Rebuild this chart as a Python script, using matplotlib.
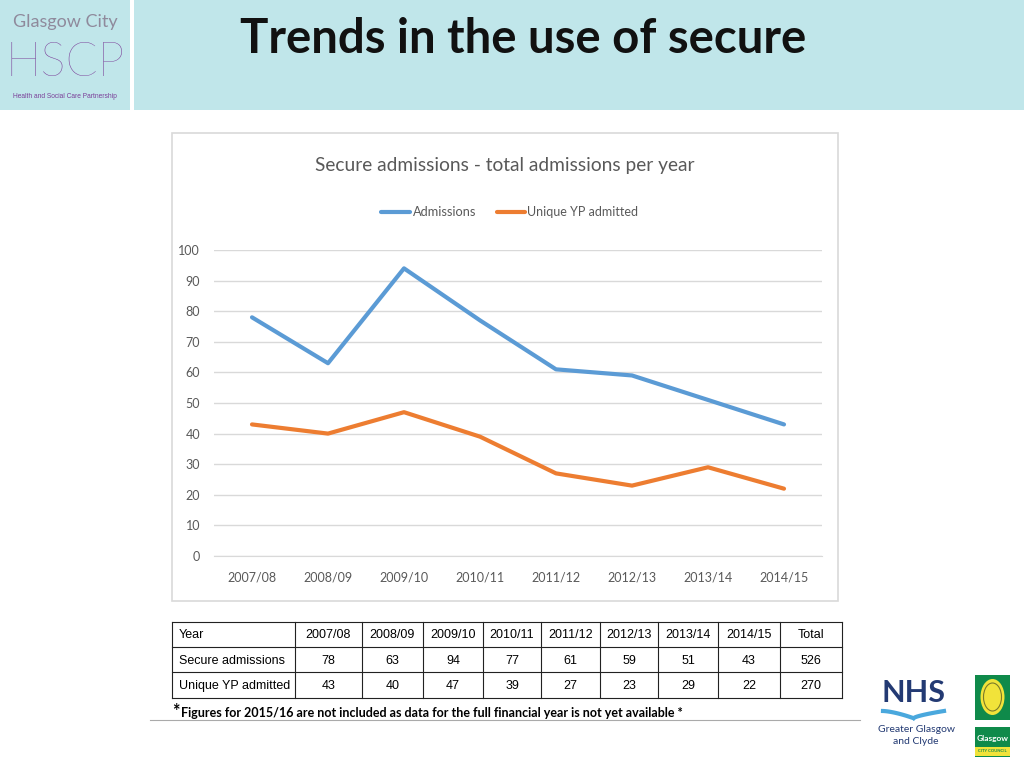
import matplotlib
matplotlib.use("Agg")
import matplotlib.pyplot as plt
from matplotlib.patches import Rectangle, Ellipse
import numpy as np

# ---------------- data ----------------
years = ["2007/08", "2008/09", "2009/10", "2010/11", "2011/12", "2012/13", "2013/14", "2014/15"]
admissions = [78, 63, 94, 77, 61, 59, 51, 43]
unique_yp = [43, 40, 47, 39, 27, 23, 29, 22]
admissions_total = 526
unique_total = 270
y_ticks = [0, 10, 20, 30, 40, 50, 60, 70, 80, 90, 100]

page_title = "Trends in the use of secure"
chart_title = "Secure admissions - total admissions per year"
series_names = ["Admissions", "Unique YP admitted"]
row_names = ["Year", "Secure admissions", "Unique YP admitted"]
footnote = "Figures for 2015/16 are not included as data for the full financial year is not yet available *"

BLUE = "#5b9bd5"
ORANGE = "#ed7d31"
CYAN = "#c0e6ea"
W, H = 1024, 768
LATO = ["Lato", "DejaVu Sans"]

fig = plt.figure(figsize=(10.24, 7.68), dpi=100)
fig.patch.set_facecolor("white")

def px_rect(x0, y0, x1, y1):
    return [x0 / W, 1 - y1 / H, (x1 - x0) / W, (y1 - y0) / H]

# background overlay axes in pixel coordinates
bg = fig.add_axes([0, 0, 1, 1])
bg.set_xlim(0, W)
bg.set_ylim(H, 0)
bg.axis("off")
bg.set_zorder(0)

# header
bg.add_patch(Rectangle((0, 0), 130, 110, color=CYAN, lw=0))
bg.add_patch(Rectangle((134, 0), W - 134, 110, color=CYAN, lw=0))
bg.text(523, 39, page_title, ha="center", va="center", fontsize=34,
        fontweight="bold", family=LATO, color="#111111")

# HSCP logo
bg.text(65, 22, "Glasgow City", ha="center", va="center", fontsize=13,
        color="#8f8a9c", family=LATO)
bg.text(65, 64, "HSCP", ha="center", va="center", fontsize=34, color="#7a3e98",
        family=LATO, fontweight="light")
bg.text(65, 96, "Health and Social Care Partnership", ha="center", va="center",
        fontsize=4.8, color="#7a3e98", family=["Liberation Sans", "DejaVu Sans"])

# chart box
bg.add_patch(Rectangle((172, 133), 666, 468, fill=False, ec="#d9d9d9", lw=1.2))
bg.text(505, 166, chart_title, ha="center", va="center", fontsize=13.8,
        color="#595959", family=LATO)
# legend
bg.plot([381, 410], [212, 212], color=BLUE, lw=3, solid_capstyle="round")
bg.text(413, 212, series_names[0], ha="left", va="center", fontsize=9.2,
        color="#595959", family=LATO)
bg.plot([497, 525], [212, 212], color=ORANGE, lw=3, solid_capstyle="round")
bg.text(527, 212, series_names[1], ha="left", va="center", fontsize=9,
        color="#595959", family=LATO)

# ---------------- chart ----------------
ax = fig.add_axes(px_rect(214, 250, 822, 556))
ax.set_zorder(2)
ax.patch.set_alpha(0)
x = np.arange(len(years))
ax.plot(x, admissions, color=BLUE, lw=3, solid_capstyle="round", zorder=3)
ax.plot(x, unique_yp, color=ORANGE, lw=3, solid_capstyle="round", zorder=3)
ax.set_xlim(-0.5, len(years) - 0.5)
ax.set_ylim(0, 100)
ax.set_yticks(y_ticks)
ax.set_xticks(x)
ax.set_xticklabels(years)
ax.grid(axis="y", color="#d9d9d9", lw=1)
ax.set_axisbelow(True)
for s in ["top", "right", "left"]:
    ax.spines[s].set_visible(False)
ax.spines["bottom"].set_color("#d9d9d9")
ax.tick_params(length=0, labelsize=9, labelcolor="#595959")
ax.tick_params(axis="x", pad=11)
ax.tick_params(axis="y", pad=10)
for lab in ax.get_xticklabels() + ax.get_yticklabels():
    lab.set_family(LATO)

# ---------------- table ----------------
col_edges = [172, 295, 362, 423, 483, 541, 600, 658, 718, 780, 842]
row_edges = [622, 647, 672, 698]
tbl = fig.add_axes([0, 0, 1, 1])
tbl.set_xlim(0, W)
tbl.set_ylim(H, 0)
tbl.axis("off")
tbl.set_zorder(3)
for yy in row_edges:
    tbl.plot([col_edges[0], col_edges[-1]], [yy, yy], color="#222222", lw=0.8)
for xx in col_edges:
    tbl.plot([xx, xx], [row_edges[0], row_edges[-1]], color="#222222", lw=0.8)
rows = [years + ["Total"],
        [str(v) for v in admissions] + [str(admissions_total)],
        [str(v) for v in unique_yp] + [str(unique_total)]]
tfont = ["Liberation Sans", "DejaVu Sans"]
for r in range(3):
    yc = (row_edges[r] + row_edges[r + 1]) / 2 + 1
    tbl.text(col_edges[0] + 7, yc, row_names[r], ha="left", va="center",
             fontsize=9, family=tfont, color="black")
    for c, val in enumerate(rows[r]):
        xc = (col_edges[c + 1] + col_edges[c + 2]) / 2
        tbl.text(xc, yc, val, ha="center", va="center", fontsize=9,
                 family=tfont, color="black")

tbl.text(172, 711, "*", ha="left", va="center", fontsize=13, fontweight="bold",
         family=LATO)
tbl.text(181, 713, footnote, ha="left", va="center", fontsize=9,
         fontweight="bold", family=LATO)
tbl.plot([150, 860], [720, 720], color="#aaaaaa", lw=0.8)

# NHS logo
NAVY = "#233a73"
tbl.text(913, 693, "NHS", ha="center", va="center", fontsize=22, fontweight="bold",
         color=NAVY, family=LATO)
t = np.linspace(0, 1, 50)
tbl.plot(883 + 30 * t, 711 + 7 * t ** 1.5, color="#4aa8dd", lw=3)
tbl.plot(914 + 30 * t, 718 - 7 * t ** 0.7, color="#4aa8dd", lw=3)
tbl.text(916, 729, "Greater Glasgow", ha="center", va="center", fontsize=7.5,
         color=NAVY, family=LATO)
tbl.text(916, 742, "and Clyde", ha="center", va="center", fontsize=7.5,
         color=NAVY, family=LATO)

# Glasgow City Council logo
tbl.add_patch(Rectangle((975, 675), 35, 82, color="#0f8a4a", lw=0))
tbl.add_patch(Ellipse((992.5, 697), 24, 36, color="#f1e33a", lw=0))
tbl.add_patch(Ellipse((992.5, 697), 18, 28, fill=False, ec="#7a7a2a", lw=0.8))
tbl.add_patch(Rectangle((975, 720), 35, 7, color="white", lw=0))
tbl.text(992.5, 738, "Glasgow", ha="center", va="center", fontsize=6, color="white",
         fontweight="bold", family=LATO)
tbl.add_patch(Rectangle((975, 747), 35, 9, color="#f1e33a", lw=0))
tbl.text(992.5, 751.5, "CITY COUNCIL", ha="center", va="center", fontsize=3,
         color="#0f8a4a", fontweight="bold", family=LATO)

fig.savefig("out.png", dpi=100)
